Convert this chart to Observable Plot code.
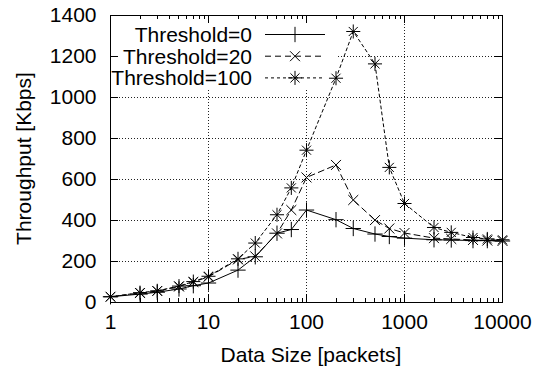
<!DOCTYPE html>
<html><head><meta charset="utf-8">
<script src="https://cdn.jsdelivr.net/npm/d3@7"></script>
<script src="https://cdn.jsdelivr.net/npm/@observablehq/plot@0.6"></script>
<style>body{margin:0;background:#fff}#chart svg{background:#fff;color:#000}</style>
</head><body><div id="chart"></div>
<script>
const sizes  = [1, 2, 3, 5, 7, 10, 20, 30, 50, 70, 100, 200, 300, 500, 700, 1000, 2000, 3000, 5000, 7000, 10000];
const thr0   = [28, 41, 50, 66, 82, 95, 158, 223, 338, 356, 451, 404, 361, 334, 322, 314, 306, 305, 302, 302, 300];
const thr20  = [28, 46, 56, 78, 100, 125, 210, 225, 337, 451, 610, 671, 500, 402, 361, 339, 314, 310, 305, 302, 300];
const thr100 = [28, 48, 57, 80, 102, 128, 213, 290, 428, 559, 743, 1094, 1322, 1164, 659, 483, 366, 342, 317, 310, 306];
const seriesNames = ["Threshold=0", "Threshold=20", "Threshold=100"];
const xTicks = [1, 10, 100, 1000, 10000];
const yTicks = [0, 200, 400, 600, 800, 1000, 1200, 1400];
const xGrid = [10, 100, 1000];
const yGrid = [200, 400, 600, 800, 1000, 1200];
const xTitle = "Data Size [packets]";
const yTitle = "Throughput [Kbps]";

const FONT = "'Liberation Sans', Arial, Helvetica, sans-serif";
const toRows = (vals) => sizes.map((s, i) => ({size: s, v: vals[i]}));
const d0 = toRows(thr0), d20 = toRows(thr20), d100 = toRows(thr100);

const styles = [
  {dash: null, syms: [{s: "plus", r: 5}]},
  {dash: "6,4", syms: [{s: "times", r: 4.6}]},
  {dash: "3,3", syms: [{s: "plus", r: 4.6}, {s: "times", r: 4.2}]}
];
const d3sym = {plus: d3.symbolPlus, times: d3.symbolTimes};

const whiteBox = (index, scales, values, dims) => {
  const g = d3.create("svg:g");
  g.append("rect").attr("x", dims.marginLeft + 0.5).attr("y", dims.marginTop + 0.5)
    .attr("width", 226).attr("height", 73).attr("fill", "white");
  return g.node();
};

const ticksMark = (index, scales, values, dims) => {
  const x = scales.x, y = scales.y;
  const g = d3.create("svg:g").attr("stroke", "black").attr("stroke-width", 1).attr("fill", "none");
  const top = dims.marginTop, bottom = dims.height - dims.marginBottom;
  const left = dims.marginLeft, right = dims.width - dims.marginRight;
  for (let d = 1; d <= 10000; d *= 10) {
    for (let m = 1; m < 10; m++) {
      const v = d * m;
      if (v > 10000) break;
      const len = m === 1 ? 8 : 4;
      const px = Math.round(x(v)) + 0.5;
      g.append("line").attr("x1", px).attr("x2", px).attr("y1", bottom).attr("y2", bottom - len);
      g.append("line").attr("x1", px).attr("x2", px).attr("y1", top).attr("y2", top + len);
    }
  }
  for (const v of yTicks) {
    const py = Math.round(y(v)) + 0.5;
    g.append("line").attr("x1", left).attr("x2", left + 8).attr("y1", py).attr("y2", py);
    g.append("line").attr("x1", right).attr("x2", right - 8).attr("y1", py).attr("y2", py);
  }
  return g.node();
};

const titlesMark = (index, scales, values, dims) => {
  const g = d3.create("svg:g").attr("font-family", FONT).attr("font-size", 21).attr("fill", "black");
  const midX = (dims.marginLeft + dims.width - dims.marginRight) / 2;
  const midY = (dims.marginTop + dims.height - dims.marginBottom) / 2;
  g.append("text").attr("text-anchor", "middle")
    .attr("x", midX + 5).attr("y", dims.height - dims.marginBottom + 60).text(xTitle);
  g.append("text").attr("text-anchor", "middle")
    .attr("transform", `translate(${dims.marginLeft - 79},${midY}) rotate(-90)`).text(yTitle);
  return g.node();
};

const legendMark = (index, scales, values, dims) => {
  const g = d3.create("svg:g");
  styles.forEach((st, i) => {
    const cy = dims.marginTop + 19.5 + i * 21.7;
    g.append("text").attr("x", dims.marginLeft + 142).attr("y", cy).attr("dy", "0.36em")
      .attr("text-anchor", "end").attr("font-size", 21).attr("font-family", FONT)
      .attr("fill", "black").text(seriesNames[i]);
    const ln = g.append("line").attr("x1", dims.marginLeft + 155).attr("x2", dims.marginLeft + 215)
      .attr("y1", cy).attr("y2", cy).attr("stroke", "black").attr("stroke-width", 1);
    if (st.dash) ln.attr("stroke-dasharray", st.dash);
    st.syms.forEach(sm => {
      g.append("path").attr("transform", `translate(${dims.marginLeft + 185},${cy})`)
        .attr("d", d3.symbol(d3sym[sm.s], Math.PI * sm.r * sm.r)())
        .attr("fill", "none").attr("stroke", "black").attr("stroke-width", 1);
    });
  });
  return g.node();
};

const gridStyle = {stroke: "#222", strokeWidth: 1, strokeDasharray: "1,2"};
const dataSets = [d0, d20, d100];

const marks = [
  Plot.ruleX(xGrid, gridStyle),
  Plot.ruleY(yGrid, gridStyle),
  whiteBox,
  ticksMark,
  Plot.frame({stroke: "black", strokeWidth: 1}),
];
dataSets.forEach((ds, i) => {
  const st = styles[i];
  marks.push(Plot.line(ds, {x: "size", y: "v", stroke: "black", strokeWidth: 1, strokeDasharray: st.dash || undefined}));
  st.syms.forEach(sm => {
    marks.push(Plot.dot(ds, {x: "size", y: "v", symbol: sm.s, r: sm.r, stroke: "black", fill: "none", strokeWidth: 1}));
  });
});
marks.push(
  Plot.axisX({ticks: xTicks, tickFormat: d => String(d), tickSize: 0, tickPadding: 12, fontSize: 21, label: null}),
  Plot.axisY({ticks: yTicks, tickFormat: d => String(d), tickSize: 0, tickPadding: 14, fontSize: 21, label: null}),
  titlesMark,
  legendMark
);

const chart = Plot.plot({
  width: 541,
  height: 371,
  marginLeft: 110,
  marginRight: 39,
  marginTop: 15,
  marginBottom: 69,
  style: {fontFamily: FONT, fontSize: "21px", background: "white", color: "black", overflow: "visible"},
  x: {type: "log", domain: [1, 10000], label: null},
  y: {domain: [0, 1400], label: null},
  marks
});
document.getElementById("chart").appendChild(chart);
</script>
</body></html>
